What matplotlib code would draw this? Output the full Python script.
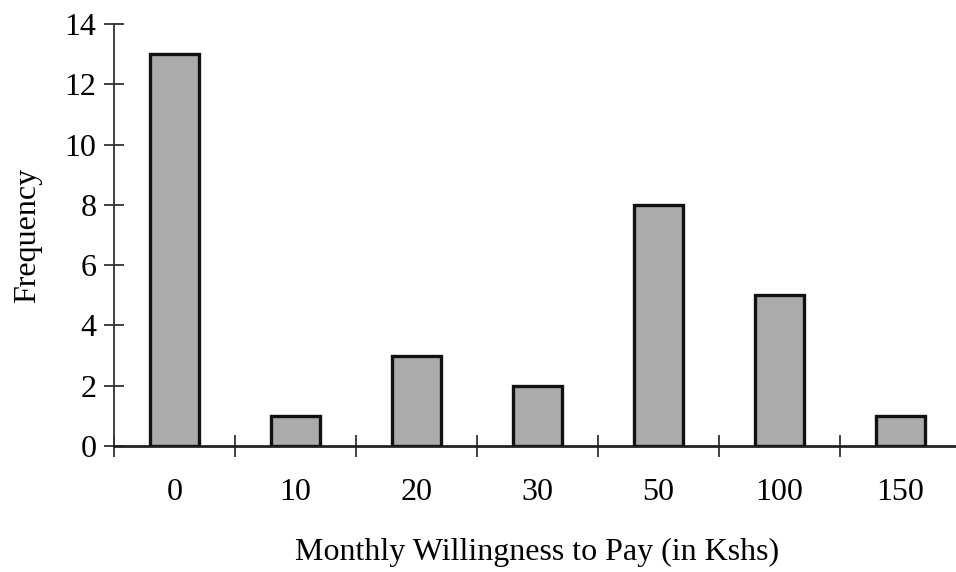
import matplotlib.pyplot as plt
import numpy as np

categories = ["0", "10", "20", "30", "50", "100", "150"]
frequency = [13, 1, 3, 2, 8, 5, 1]

plt.rcParams["font.family"] = ["Liberation Serif", "DejaVu Serif"]

fig = plt.figure(figsize=(9.56, 5.72), dpi=100)
ax = fig.add_axes([0.1192, 0.2203, 0.886, 0.7378])

x = np.arange(len(categories))
ax.bar(x, frequency, width=0.41, color="#ababab", edgecolor="#111111", linewidth=2.4, zorder=3)

ax.set_xlim(-0.5, len(categories) - 0.5)
ax.set_ylim(0, 14)
ax.set_yticks(np.arange(0, 15, 2))

# ticks at category boundaries, labels at centres
ax.set_xticks(np.arange(len(categories) + 1) - 0.5)
ax.set_xticklabels([])
ax.set_xticks(x, minor=True)
ax.set_xticklabels(categories, minor=True)

ax.tick_params(axis="y", direction="inout", length=15, width=1.3, color="#333333",
               labelsize=23, pad=5)
ax.tick_params(axis="x", which="major", direction="inout", length=16, width=1.3, color="#333333")
ax.tick_params(axis="x", which="minor", length=0, labelsize=23, pad=23)

for s in ["top", "right"]:
    ax.spines[s].set_visible(False)
ax.spines["left"].set_linewidth(1.3)
ax.spines["left"].set_color("#333333")
ax.spines["bottom"].set_linewidth(2.0)
ax.spines["bottom"].set_color("#222222")

ax.set_xlabel("Monthly Willingness to Pay (in Kshs)", fontsize=23, labelpad=22)
ax.set_ylabel("Frequency", fontsize=23, labelpad=16)

fig.savefig("out.png", dpi=100)
